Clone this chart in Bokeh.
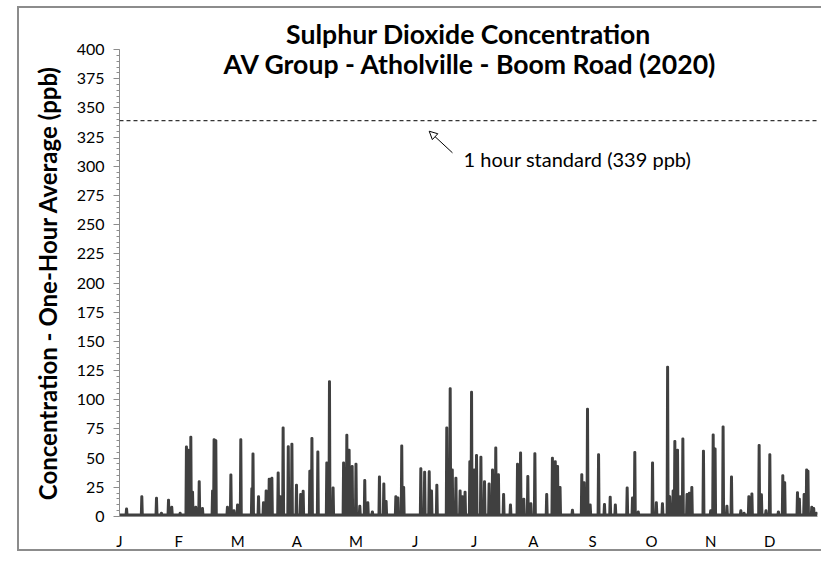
from bokeh.plotting import figure
from bokeh.models import Range1d, FixedTicker, Label, Span, Arrow, NormalHead, Title
from bokeh.embed import file_html
from bokeh.resources import INLINE

# ---- data ----
month_labels = ["J", "F", "M", "A", "M", "J", "J", "A", "S", "O", "N", "D"]
month_tick_days = [0, 31, 62, 93, 124, 155, 186, 217, 248, 279, 310, 341]
days_in_year = 366
baseline_ppb = 1.5
standard_ppb = 339

spike_day = [3.7, 11.7, 19.4, 22, 25.7, 27.4, 31.8, 35.1, 36.0, 37.4, 38.3, 40, 41.8, 43.5,
             48.8, 49.6, 50.5, 56.6, 58.4, 60, 61.9, 63.6, 69.4, 70, 72.9, 75.5, 76.9, 78.5,
             79.9, 83.2, 84.3, 85.8, 88.5, 90.4, 92.8, 95, 96.3, 99.8, 100.9, 104, 108.7,
             110.1, 112, 117.5, 119.2, 120.4, 122, 124, 126, 128.6, 130.2, 132.6, 136.3,
             138.6, 139.8, 144.9, 146, 148, 149, 158, 160, 162.4, 163.6, 166.4, 171.6,
             173.4, 174.5, 176.4, 178.6, 179.8, 181.2, 183.7, 184.6, 186, 187.2, 189.5,
             191.4, 193.8, 195.6, 197.3, 198.7, 201.4, 205, 208.7, 210.3, 212, 214.1,
             215.7, 217.8, 224, 227, 228.5, 229.7, 231, 237.5, 242.4, 243.6, 245.4, 246.8,
             251.2, 254.3, 257.3, 260, 266.2, 269, 270.2, 272, 279.5, 281.5, 284.7, 287.4,
             288.5, 290.3, 291.2, 292.6, 294, 295.4, 297.6, 298.8, 300.1, 306.2, 310,
             311.3, 312.3, 316.5, 318.5, 320.9, 325.8, 327.5, 330, 331.6, 335.4, 336.6,
             339, 341, 345.5, 347.8, 348.8, 355.5, 356.5, 359, 360.3, 361, 363, 364, 365.5]
spike_ppb = [6.6, 17, 15.7, 3, 14, 8, 3, 59.7, 57, 68, 21, 8, 30, 7,
             22, 66, 65, 8, 35.7, 5, 10, 66, 24, 53.7, 17, 12, 22, 32,
             33, 37.4, 17, 76, 60, 62, 27, 19, 21.7, 39, 67, 55.4, 46,
             115.6, 24.5, 46, 69.7, 57, 43, 45, 9, 31, 12, 4, 34,
             28, 13, 17, 16, 60.5, 25, 41, 38, 38.4, 22, 27, 76,
             109.6, 40, 33, 22, 17, 21, 47, 106.5, 40, 52.5, 51,
             30, 28, 40, 58.8, 36, 19, 10, 45, 54.5, 15, 34.5,
             11, 54, 19, 50, 47, 43, 25, 5.5, 36, 29, 92, 10,
             53, 10.5, 16.7, 10, 24.5, 16, 55, 4, 46, 12, 11, 128,
             17, 22, 64.5, 57, 17, 66.5, 19, 20, 25, 56, 5,
             70, 58, 76.8, 9, 34, 5, 3, 17, 19.5, 61, 18.7,
             5, 53, 4, 35, 29, 20.5, 15, 19, 40, 39, 8, 7, 3]

# build the hourly-looking trace from spikes on a baseline
xs, ys = [0.0], [baseline_ppb]
for d, v in zip(spike_day, spike_ppb):
    xs += [d - 0.35, d - 0.1, d + 0.1, d + 0.35]
    ys += [baseline_ppb, v, v, baseline_ppb]
xs.append(days_in_year)
ys.append(baseline_ppb)

FONT = "Lato"
GRAY = "#8c8c8c"
W, H = 821, 552

p = figure(width=W, height=H, output_backend="svg", toolbar_location=None,
           x_range=Range1d(0, days_in_year), y_range=Range1d(0, 400),
           min_border_left=119, min_border_right=4, min_border_top=49, min_border_bottom=36)
# outer chart border (left, top, bottom edges) drawn as inset shadows behind a transparent canvas border
p.styles = {"box-shadow": "inset 13.5px 2.5px 0 3.5px white, inset 13.5px 2.5px 0 5.5px #8c8c8c",
            "background-color": "white"}
p.border_fill_alpha = 0
p.outline_line_color = None
p.xgrid.visible = False
p.ygrid.visible = False
p.background_fill_color = "white"

p.line(xs, ys, line_color="#404040", line_width=2.6, line_join="round")

# standard line
p.add_layout(Span(location=standard_ppb, dimension="width", line_color="black",
                  line_width=1, line_dash="4 3"))
p.add_layout(Arrow(end=NormalHead(size=8, fill_color=None, line_color="black", line_width=1),
                   x_start=174.6, y_start=311.5, x_end=162.4, y_end=330,
                   line_color="black", line_width=1))
p.add_layout(Label(x=180.4, y=306.6, text="1 hour standard (339 ppb)",
                   text_font=FONT, text_font_size="20px", text_baseline="middle",
                   text_color="black"))

# titles
p.add_layout(Title(text="Sulphur Dioxide Concentration", align="center",
                   text_font=FONT, text_font_size="26.6px", text_font_style="bold",
                   text_color="black", standoff=0), "above")
p.add_layout(Label(x=184, y=387.5, text="AV Group - Atholville - Boom Road (2020)",
                   text_font=FONT, text_font_size="26.6px", text_font_style="bold",
                   text_align="center", text_baseline="middle", text_color="black"))

# y axis
ya = p.yaxis[0]
ya.ticker = FixedTicker(ticks=list(range(0, 401, 25)), minor_ticks=list(range(0, 401, 5)))
ya.axis_line_color = GRAY
ya.major_tick_line_color = GRAY
ya.minor_tick_line_color = GRAY
ya.major_tick_out = 6
ya.major_tick_in = 0
ya.minor_tick_out = 3
ya.minor_tick_in = 0
ya.major_label_text_font = FONT
ya.major_label_text_font_size = "16px"
ya.major_label_text_color = "black"
ya.major_label_standoff = 9
ya.axis_label = "Concentration - One-Hour Average (ppb)"
ya.axis_label_text_font = FONT
ya.axis_label_text_font_size = "24px"
ya.axis_label_text_font_style = "bold"
ya.axis_label_text_color = "black"
ya.axis_label_standoff = 12

# x axis
xa = p.xaxis[0]
xa.ticker = FixedTicker(ticks=month_tick_days)
xa.major_label_overrides = {d: lab for d, lab in zip(month_tick_days, month_labels)}
xa.axis_line_color = GRAY
xa.major_tick_line_color = None
xa.minor_tick_line_color = None
xa.major_tick_out = 0
xa.major_tick_in = 0
xa.major_label_text_font = FONT
xa.major_label_text_font_size = "15px"
xa.major_label_text_color = "black"
xa.major_label_standoff = 15

open("out.html", "w").write(file_html(p, INLINE))
